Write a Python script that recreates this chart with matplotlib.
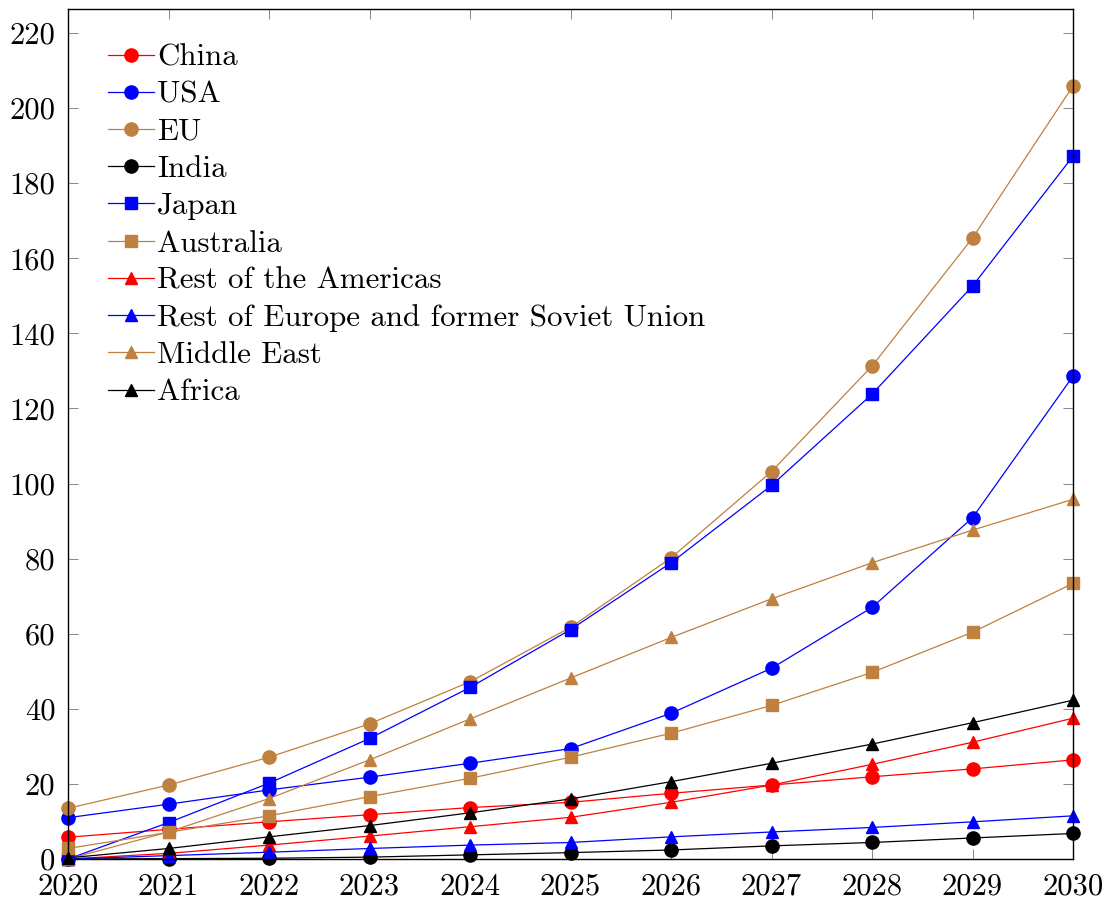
import matplotlib.pyplot as plt

plt.rcParams["font.family"] = "serif"
plt.rcParams["font.serif"] = ["cmr10"]
plt.rcParams["mathtext.fontset"] = "cm"
plt.rcParams["axes.formatter.use_mathtext"] = True

years = [2020, 2021, 2022, 2023, 2024, 2025, 2026, 2027, 2028, 2029, 2030]

china = [5.8, 7.9, 9.9, 11.8, 13.7, 15.1, 17.5, 19.7, 21.9, 24.0, 26.4]
usa = [11.0, 14.6, 18.4, 21.8, 25.5, 29.4, 38.8, 50.8, 67.0, 90.9, 128.6]
eu = [13.5, 19.7, 27.1, 36.0, 47.2, 61.7, 80.2, 103.2, 131.3, 165.4, 205.9]
india = [0.0, 0.1, 0.2, 0.5, 1.1, 1.7, 2.4, 3.5, 4.4, 5.6, 6.8]
japan = [0.0, 9.7, 20.2, 32.1, 45.7, 61.1, 78.9, 99.5, 123.8, 152.6, 187.2]
australia = [2.8, 7.1, 11.5, 16.6, 21.5, 27.1, 33.5, 40.9, 49.7, 60.4, 73.4]
rest_americas = [0.0, 1.5, 3.7, 6.1, 8.6, 11.1, 15.1, 19.7, 25.2, 31.1, 37.5]
rest_europe = [0.0, 0.9, 1.8, 2.8, 3.7, 4.4, 5.9, 7.2, 8.4, 9.9, 11.5]
middle_east = [0.0, 7.2, 16.1, 26.4, 37.3, 48.2, 59.0, 69.3, 78.9, 87.6, 95.8]
africa = [0.3, 2.8, 5.9, 8.9, 12.3, 16.0, 20.6, 25.5, 30.6, 36.3, 42.3]

yticks = [0, 20, 40, 60, 80, 100, 120, 140, 160, 180, 200, 220]

red = "#ff0000"
blue = "#0000ff"
brown = "#bf8040"
black = "#000000"

series = [
    ("China", china, red, "o", 9.5),
    ("USA", usa, blue, "o", 9.5),
    ("EU", eu, brown, "o", 9.5),
    ("India", india, black, "o", 9.5),
    ("Japan", japan, blue, "s", 8.5),
    ("Australia", australia, brown, "s", 8.5),
    ("Rest of the Americas", rest_americas, red, "^", 8),
    ("Rest of Europe and former Soviet Union", rest_europe, blue, "^", 8),
    ("Middle East", middle_east, brown, "^", 8),
    ("Africa", africa, black, "^", 8),
]

fig = plt.figure(figsize=(11.1, 9.02), dpi=100)
ax = fig.add_axes([68 / 1110, 43 / 902, 1005 / 1110, 850 / 902])

for name, vals, col, mk, ms in series:
    ax.plot(years, vals, color=col, marker=mk, markersize=ms, linewidth=0.9,
            label=name, clip_on=False)

ax.set_xlim(2020, 2030)
ax.set_ylim(0, 226.4)
ax.set_xticks(years)
ax.set_xticklabels([str(y) for y in years])
ax.set_yticks(yticks)
ax.set_yticklabels([str(v) for v in yticks])

ax.tick_params(direction="in", length=7, width=0.7, color="#888888",
               labelsize=22, top=True, right=True)
ax.tick_params(axis="x", pad=10)
ax.tick_params(axis="y", pad=9)
for sp in ax.spines.values():
    sp.set_linewidth(1.0)

ax.legend(loc="upper left", bbox_to_anchor=(0.018, 0.985), frameon=False,
          fontsize=22.3, handlelength=1.5, handletextpad=0.1,
          labelspacing=0.3, borderaxespad=0.3)

plt.savefig("out.png", dpi=100)
